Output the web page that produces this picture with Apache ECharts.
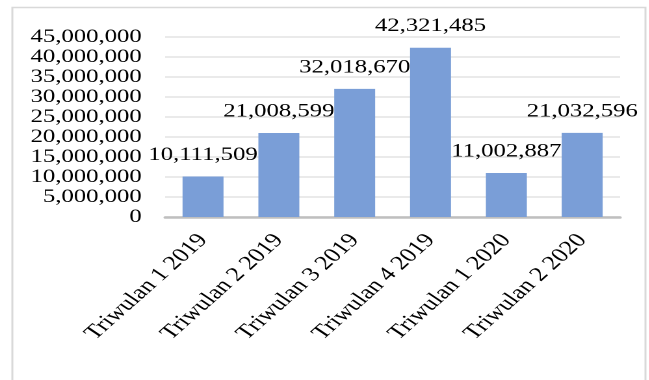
<!DOCTYPE html>
<html>
<head>
<meta charset="utf-8">
<script src="https://cdn.jsdelivr.net/npm/echarts@6/dist/echarts.min.js"></script>
<style>
  html, body { margin: 0; padding: 0; background: #ffffff; overflow: hidden; }
  #wrap { width: 649px; height: 380px; overflow: hidden; }
  /* chart is drawn narrow and widened horizontally, giving the wide serif look */
  #chart { width: 499px; height: 380px; transform: scaleX(1.3); transform-origin: 0 0; }
</style>
</head>
<body>
<div id="wrap"><div id="chart"></div></div>
<script>
// quarterly totals
const categories = ['Triwulan 1 2019', 'Triwulan 2 2019', 'Triwulan 3 2019', 'Triwulan 4 2019', 'Triwulan 1 2020', 'Triwulan 2 2020'];
const values = [10111509, 21008599, 32018670, 42321485, 11002887, 21032596];
const yTicks = [0, 5000000, 10000000, 15000000, 20000000, 25000000, 30000000, 35000000, 40000000, 45000000];

const fmt = v => Number(v).toLocaleString('en-US');
const serif = 'Liberation Serif';

const chart = echarts.init(document.getElementById('chart'), null, { renderer: 'canvas', devicePixelRatio: 2 });
chart.setOption({
  animation: false,
  backgroundColor: '#ffffff',
  graphic: [{
    type: 'rect',
    shape: { x: 9.5, y: 7.5, width: 487, height: 420 },
    style: { fill: 'none', stroke: '#d9d9d9', lineWidth: 1.5 },
    silent: true
  }],
  grid: { left: 127, right: 22, top: 37, bottom: 163, containLabel: false },
  xAxis: {
    type: 'category',
    data: categories,
    axisLine: { show: true, lineStyle: { color: '#bfbfbf', width: 2.5 } },
    axisTick: { show: false },
    axisLabel: {
      interval: 0,
      rotate: 49,
      margin: 20,
      color: '#000000',
      fontFamily: serif,
      fontSize: 20
    }
  },
  yAxis: {
    type: 'value',
    min: yTicks[0],
    max: yTicks[yTicks.length - 1],
    interval: yTicks[1] - yTicks[0],
    axisLine: { show: false },
    axisTick: { show: false },
    splitLine: { lineStyle: { color: '#e4e4e4', width: 1.5 } },
    axisLabel: {
      margin: 18,
      color: '#000000',
      fontFamily: serif,
      fontSize: 19,
      lineHeight: 19,
      formatter: fmt
    }
  },
  series: [{
    type: 'bar',
    data: values,
    barWidth: '54%',
    itemStyle: { color: '#7a9ed7' },
    label: {
      show: true,
      position: 'top',
      distance: 12,
      color: '#000000',
      fontFamily: serif,
      fontSize: 19,
      formatter: p => fmt(p.value)
    }
  }]
});
</script>
</body>
</html>
